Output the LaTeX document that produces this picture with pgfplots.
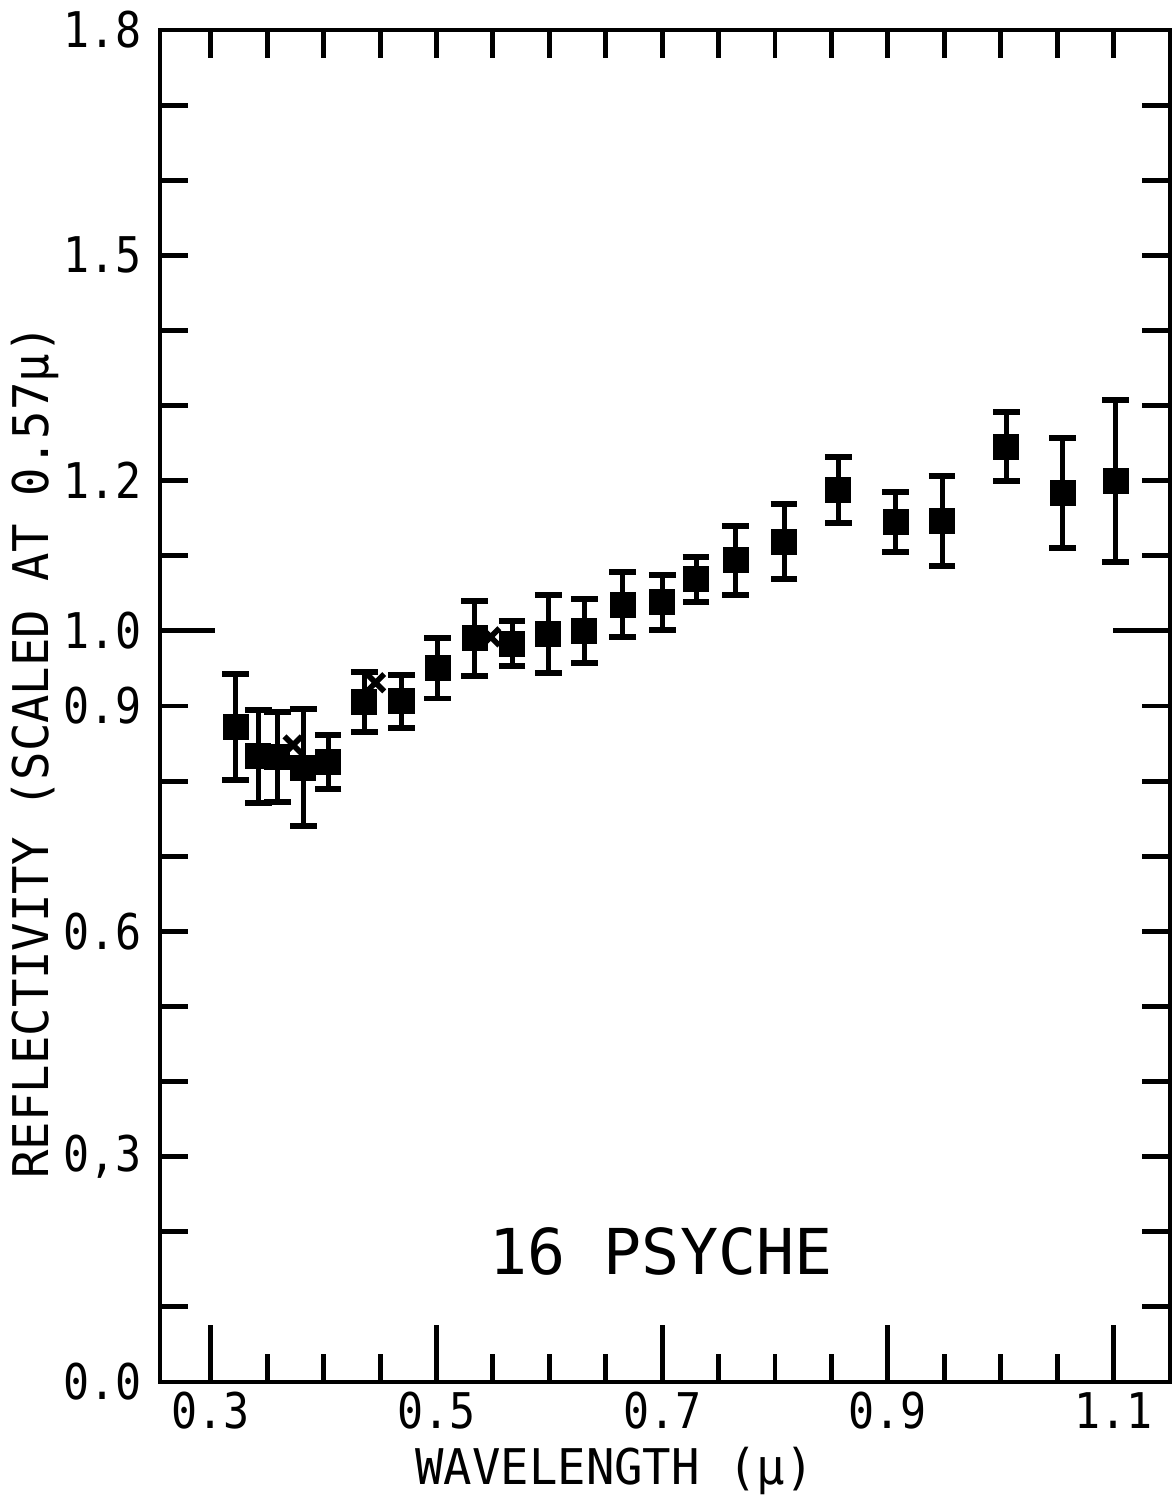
\documentclass[border=0pt]{standalone}
\usepackage{fontspec}
\setmainfont{DejaVu Sans Mono}
\newfontfamily\tickfont[FakeStretch=0.88]{DejaVu Sans Mono}
\newfontfamily\labfont[FakeStretch=0.96]{DejaVu Sans Mono}
\usepackage{pgfplots}
\pgfplotsset{compat=1.18}
\usepackage{pgfplotstable}

\pgfplotstableread{
x y err
0.322 0.872 0.070
0.342 0.833 0.062
0.359 0.832 0.060
0.382 0.818 0.078
0.404 0.825 0.036
0.436 0.905 0.040
0.469 0.906 0.035
0.501 0.950 0.040
0.534 0.990 0.050
0.567 0.983 0.030
0.599 0.996 0.052
0.631 1.000 0.043
0.665 1.035 0.043
0.700 1.038 0.037
0.730 1.069 0.030
0.765 1.094 0.046
0.808 1.119 0.050
0.856 1.188 0.044
0.907 1.145 0.040
0.948 1.146 0.060
1.005 1.245 0.046
1.055 1.184 0.073
1.102 1.200 0.108
}\psyche

\pgfplotstableread{
x y
0.373 0.848
0.446 0.931
0.548 0.992
}\crosses

\begin{document}
\begin{tikzpicture}
\path[use as bounding box] (-1.60,-1.18) rectangle (10.16,13.82);
\begin{axis}[
  scale only axis,
  width=10.1cm, height=13.52cm,
  xmin=0.255, xmax=1.150,
  ymin=0, ymax=1.8,
  axis line style={line width=1.4pt},
  every tick/.style={line width=1.4pt, black},
  tick align=inside,
  major tick length=0.28cm,
  xtick={0.30,0.35,0.40,0.45,0.50,0.55,0.60,0.65,0.70,0.75,0.80,0.85,0.90,0.95,1.00,1.05,1.10},
  xticklabels={0.3,,,,0.5,,,,0.7,,,,0.9,,,,1.1},
  ytick={0,0.1,0.2,0.3,0.4,0.5,0.6,0.7,0.8,0.9,1.0,1.1,1.2,1.3,1.4,1.5,1.6,1.7,1.8},
  yticklabels={0.0,,,{0,3},,,0.6,,,0.9,1.0,,1.2,,,1.5,,,1.8},
  tick label style={font=\tickfont\fontsize{14}{16}\selectfont},
  xticklabel style={yshift=0.02cm},
  yticklabel style={xshift=-0.06cm},
  every axis x label/.style={at={(axis description cs:0.45,-0.066)}, anchor=center},
  every axis y label/.style={at={(axis description cs:-0.124,0.466)}, anchor=center, rotate=90},
  label style={font=\labfont\fontsize{14}{16}\selectfont},
  xlabel={WAVELENGTH (μ)},
  ylabel={REFLECTIVITY (SCALED AT 0.57μ)},
  clip=false,
]
\addplot[black, only marks, mark=square*, mark size=3.5pt,
  error bars/.cd, y dir=both, y explicit,
  error bar style={line width=1.4pt, black},
  error mark options={rotate=90, line width=1.7pt, mark size=3.8pt, black}]
  table[x=x, y=y, y error=err] {\psyche};
\addplot[black, only marks, mark=x, mark size=3.5pt, line width=1.6pt] table[x=x, y=y] {\crosses};
\draw[line width=1.4pt] (axis cs:0.3,0) -- (axis cs:0.3,0.0759);
\draw[line width=1.4pt] (axis cs:0.5,0) -- (axis cs:0.5,0.0759);
\draw[line width=1.4pt] (axis cs:0.7,0) -- (axis cs:0.7,0.0759);
\draw[line width=1.4pt] (axis cs:0.9,0) -- (axis cs:0.9,0.0759);
\draw[line width=1.4pt] (axis cs:1.1,0) -- (axis cs:1.1,0.0759);
\draw[line width=1.4pt] (axis cs:0.255,1.0) -- (axis cs:0.3037,1.0);
\draw[line width=1.4pt] (axis cs:1.150,1.0) -- (axis cs:1.0995,1.0);
\node[font=\fontsize{18}{20}\selectfont] at (axis cs:0.699,0.174) {16 PSYCHE};
\end{axis}
\end{tikzpicture}
\end{document}
